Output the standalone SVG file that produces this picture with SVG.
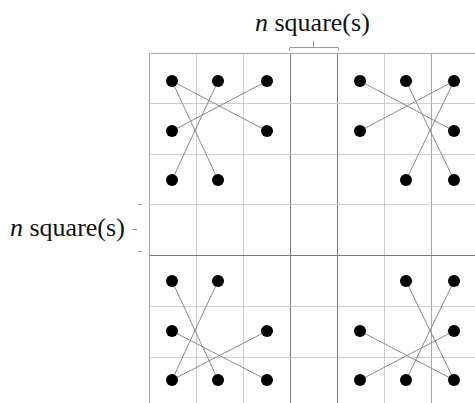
<svg xmlns="http://www.w3.org/2000/svg" width="475" height="403" viewBox="0 0 475 403">
<style>
.lbl{font-family:"Liberation Serif","Times New Roman",serif;font-size:26px;fill:#111}
.lt{stroke:#cfcfcf;stroke-width:1}
.md{stroke:#a8a8a8;stroke-width:1}
.dk{stroke:#7a7a7a;stroke-width:1}
.c{stroke:#8a8a8a;stroke-width:1;fill:none}
.d{fill:#000}
.br{stroke:#999;stroke-width:1;fill:none}
</style>
<rect width="475" height="403" fill="#fff"/>
<g id="grid">
<line class="md" x1="149.5" y1="53.5" x2="149.5" y2="403"/>
<line class="lt" x1="196.5" y1="53.5" x2="196.5" y2="403"/>
<line class="lt" x1="243.5" y1="53.5" x2="243.5" y2="403"/>
<line class="dk" x1="290.5" y1="53.5" x2="290.5" y2="403"/>
<line class="dk" x1="337.5" y1="53.5" x2="337.5" y2="403"/>
<line class="lt" x1="384.5" y1="53.5" x2="384.5" y2="403"/>
<line class="md" x1="431.5" y1="53.5" x2="431.5" y2="403"/>
<line class="md" x1="149.5" y1="53.5" x2="475" y2="53.5"/>
<line class="lt" x1="149.5" y1="103.5" x2="475" y2="103.5"/>
<line class="lt" x1="149.5" y1="154.5" x2="475" y2="154.5"/>
<line class="lt" x1="149.5" y1="204.5" x2="475" y2="204.5"/>
<line class="dk" x1="149.5" y1="255.5" x2="475" y2="255.5"/>
<line class="lt" x1="149.5" y1="306.5" x2="475" y2="306.5"/>
<line class="lt" x1="149.5" y1="357.5" x2="475" y2="357.5"/>
</g>
<g id="labels">
<text class="lbl" x="255" y="31"><tspan font-style="italic">n</tspan> square(s)</text>
<text class="lbl" x="10" y="236"><tspan font-style="italic">n</tspan> square(s)</text>
<path class="br" d="M289.5,51 V47.5 H338.5 V51 M313.5,47.5 V41"/>
<path class="br" d="M138,204.5 H142 M132,229.5 H137 M138,251.5 H142"/>
</g>
<g id="connectors">
<line class="c" x1="172" y1="81" x2="267" y2="131"/>
<line class="c" x1="172" y1="81" x2="218" y2="180"/>
<line class="c" x1="218" y1="81" x2="172" y2="180"/>
<line class="c" x1="267" y1="81" x2="172" y2="131"/>
<line class="c" x1="360" y1="81" x2="454" y2="131"/>
<line class="c" x1="406" y1="81" x2="454" y2="180"/>
<line class="c" x1="454" y1="81" x2="360" y2="131"/>
<line class="c" x1="454" y1="81" x2="406" y2="180"/>
<line class="c" x1="172" y1="281" x2="218" y2="380"/>
<line class="c" x1="218" y1="281" x2="172" y2="380"/>
<line class="c" x1="172" y1="331" x2="267" y2="380"/>
<line class="c" x1="267" y1="331" x2="172" y2="380"/>
<line class="c" x1="406" y1="281" x2="454" y2="380"/>
<line class="c" x1="454" y1="281" x2="406" y2="380"/>
<line class="c" x1="360" y1="331" x2="454" y2="380"/>
<line class="c" x1="454" y1="331" x2="360" y2="380"/>
</g>
<g id="tl">
<circle class="d" cx="172" cy="81" r="6"/><circle class="d" cx="218" cy="81" r="6"/><circle class="d" cx="267" cy="81" r="6"/>
<circle class="d" cx="172" cy="131" r="6"/><circle class="d" cx="267" cy="131" r="6"/>
<circle class="d" cx="172" cy="180" r="6"/><circle class="d" cx="218" cy="180" r="6"/>
</g>
<g id="tr">
<circle class="d" cx="360" cy="81" r="6"/><circle class="d" cx="406" cy="81" r="6"/><circle class="d" cx="454" cy="81" r="6"/>
<circle class="d" cx="360" cy="131" r="6"/><circle class="d" cx="454" cy="131" r="6"/>
<circle class="d" cx="406" cy="180" r="6"/><circle class="d" cx="454" cy="180" r="6"/>
</g>
<g id="bl">
<circle class="d" cx="172" cy="281" r="6"/><circle class="d" cx="218" cy="281" r="6"/>
<circle class="d" cx="172" cy="331" r="6"/><circle class="d" cx="267" cy="331" r="6"/>
<circle class="d" cx="172" cy="380" r="6"/><circle class="d" cx="218" cy="380" r="6"/><circle class="d" cx="267" cy="380" r="6"/>
</g>
<g id="br">
<circle class="d" cx="406" cy="281" r="6"/><circle class="d" cx="454" cy="281" r="6"/>
<circle class="d" cx="360" cy="331" r="6"/><circle class="d" cx="454" cy="331" r="6"/>
<circle class="d" cx="360" cy="380" r="6"/><circle class="d" cx="406" cy="380" r="6"/><circle class="d" cx="454" cy="380" r="6"/>
</g>
</svg>
